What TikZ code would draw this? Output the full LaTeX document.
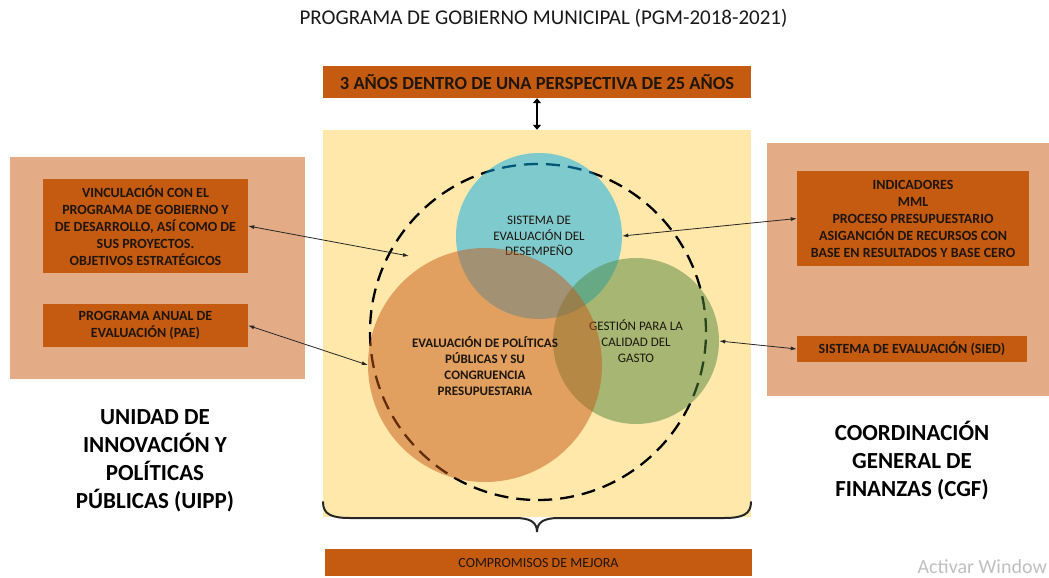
\documentclass[tikz,border=0pt]{standalone}
\usepackage{fontspec}
\setmainfont{Carlito}
\usetikzlibrary{arrows.meta}
\definecolor{boxor}{RGB}{197,90,17}
\definecolor{panel}{RGB}{227,172,134}
\definecolor{paleyel}{RGB}{255,232,170}
\definecolor{cblue}{RGB}{0,174,240}
\definecolor{corange}{RGB}{197,90,24}
\definecolor{cgreen}{RGB}{81,136,62}
\definecolor{txt}{RGB}{30,22,14}
\tikzset{
  obox/.style={fill=boxor, draw=none, inner sep=0pt, align=center, text=txt,
    font=\fontsize{14}{17}\selectfont\bfseries},
  panelbox/.style={fill=panel, draw=none, inner sep=0pt},
  venn/.style={circle, inner sep=0pt, fill opacity=0.5, text opacity=1, align=center, text=txt},
  biglabel/.style={align=center, text=black, font=\fontsize{23}{28}\selectfont\bfseries},
  linkarrow/.style={{Latex[length=6pt,width=4pt]}-{Latex[length=6pt,width=4pt]}, line width=0.8pt, draw=black!85},
}
\begin{document}
\begin{tikzpicture}[x=1pt,y=-1pt]
\useasboundingbox (0,0) rectangle (1049,578);
% title
\node[font=\fontsize{21}{25}\selectfont, text=black!90] (title) at (543.5,18) {PROGRAMA DE GOBIERNO MUNICIPAL (PGM-2018-2021)};
% top box
\node[obox, minimum width=428, minimum height=32, font=\fontsize{18.5}{22}\selectfont\bfseries] (top) at (537,82) {3 AÑOS DENTRO DE UNA PERSPECTIVA DE 25 AÑOS};
% yellow area
\node[fill=paleyel, draw=none, inner sep=0pt, minimum width=428, minimum height=387] (yel) at (537,323.5) {};
\draw[{Triangle[length=5pt,width=8pt]}-{Triangle[length=5pt,width=8pt]}, line width=2.2pt, black] (top.south) -- (yel.north);
% side panels
\node[panelbox, minimum width=295, minimum height=222] (lpanel) at (157.5,268) {};
\node[panelbox, minimum width=282, minimum height=253, anchor=north west] (rpanel) at (767,143) {};
% left boxes
\node[obox, minimum width=205, minimum height=94] (vinc) at (145.5,226) {VINCULACIÓN CON EL\\PROGRAMA DE GOBIERNO Y\\DE DESARROLLO, ASÍ COMO DE\\SUS PROYECTOS.\\OBJETIVOS ESTRATÉGICOS};
\node[obox, minimum width=205, minimum height=43] (pae) at (145.5,325.5) {PROGRAMA ANUAL DE\\EVALUACIÓN (PAE)};
% right boxes
\node[obox, minimum width=232, minimum height=95] (ind) at (913,218.5) {INDICADORES\\MML\\PROCESO PRESUPUESTARIO\\ASIGANCIÓN DE RECURSOS CON\\BASE EN RESULTADOS Y BASE CERO};
\node[obox, minimum width=230, minimum height=26] (sied) at (912,349) {SISTEMA DE EVALUACIÓN (SIED)};
% dashed ring
\node[circle, draw=black, dash pattern=on 14pt off 8pt, line width=2.3pt, minimum size=336, inner sep=0pt] (ring) at (538,332) {};
% venn circles
\node[venn, fill=cblue, minimum size=166, font=\fontsize{13}{15.8}\selectfont] (blue) at (539,236) {SISTEMA DE\\EVALUACIÓN DEL\\DESEMPEÑO};
\node[venn, fill=cgreen, minimum size=166, font=\fontsize{13}{15.8}\selectfont] (green) at (636,341) {GESTIÓN PARA LA\\CALIDAD DEL\\GASTO};
\node[venn, fill=corange, minimum size=234] (orange) at (485,365) {};
\node[align=center, text=txt, font=\fontsize{13}{15.8}\selectfont\bfseries] (otext) at (485,366) {EVALUACIÓN DE POLÍTICAS\\PÚBLICAS Y SU\\CONGRUENCIA\\PRESUPUESTARIA};
% connectors
\coordinate (lp) at (409,256);
\draw[linkarrow] (vinc.east) -- (lp);
\draw[linkarrow] (pae.east) -- (orange.west);
\draw[linkarrow] (ind.west) -- (blue.east);
\draw[linkarrow] (sied.west) -- (green.east);
% brace
\coordinate (bl) at (323,502);
\coordinate (br) at (751,502);
\coordinate (btip) at (537,532);
\draw[line width=2pt, black!85, line cap=round] (bl) .. controls (323,514) and (331,518) .. (350,518) -- (515,518) .. controls (530,518) and (537,522) .. (btip) .. controls (537,522) and (544,518) .. (559,518) -- (724,518) .. controls (743,518) and (751,514) .. (br);
% bottom box
\node[obox, minimum width=427, minimum height=27, font=\fontsize{14}{17}\selectfont] (comp) at (538.5,562.5) {COMPROMISOS DE MEJORA};
% big labels
\node[biglabel] (uipp) at (155,461) {UNIDAD DE\\INNOVACIÓN Y\\POLÍTICAS\\PÚBLICAS (UIPP)};
\node[biglabel] (cgf) at (912,461) {COORDINACIÓN\\GENERAL DE\\FINANZAS (CGF)};
% watermark
\node[anchor=base east, text=black!25, font=\fontsize{20}{24}\selectfont, inner sep=0pt] (wm) at (1047,573) {Activar Window};
\end{tikzpicture}
\end{document}
